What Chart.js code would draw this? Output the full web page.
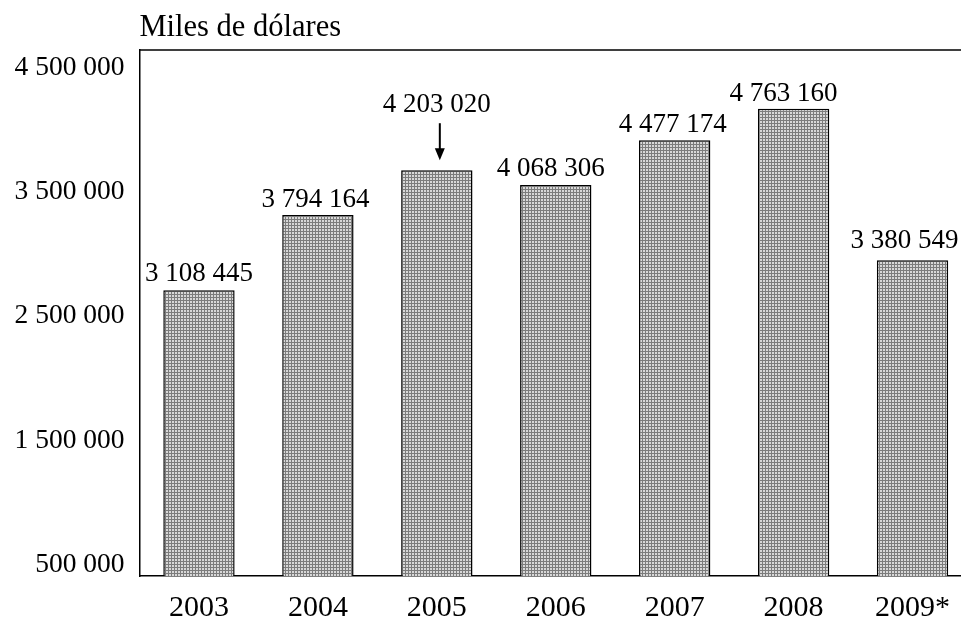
<!DOCTYPE html>
<html>
<head>
<meta charset="utf-8">
<title>Miles de dólares</title>
<script src="https://cdn.jsdelivr.net/npm/chart.js@4.4.0/dist/chart.umd.min.js"></script>
<style>
  html, body { margin: 0; padding: 0; overflow: hidden; background: #fff; }
  #wrap { width: 1000px; height: 620px; }
</style>
</head>
<body>
<div id="wrap"><canvas id="chart"></canvas></div>
<script>
const years = ['2003', '2004', '2005', '2006', '2007', '2008', '2009*'];
const values = [3108445, 3794164, 4203020, 4068306, 4477174, 4763160, 3380549];
const tickValues = [500000, 1500000, 2500000, 3500000, 4500000];
const unitLabel = 'Miles de dólares';

const SERIF = '"Liberation Serif", "Times New Roman", serif';

// label nudges as placed in the original (px)
const labelDx = [0, -2.5, 0, -5, -2, -10, -8];
const labelDy = [9, 8.5, 58, 8.5, 8.5, 8, 12.5];

function fmt(v) {
    return String(v).replace(/\B(?=(\d{3})+(?!\d))/g, ' ');
}

// fine grey grid fill like the original print
function makePattern() {
    let p = document.createElement('canvas');
    p.width = 3; p.height = 3;
    let pc = p.getContext('2d');
    pc.fillStyle = '#d8d8d8';
    pc.fillRect(0, 0, 3, 3);
    pc.fillStyle = '#7c7c7c';
    pc.fillRect(0, 0, 3, 1);
    pc.fillRect(0, 0, 1, 3);
    return document.getElementById('chart').getContext('2d').createPattern(p, 'repeat');
}

const framePlugin = {
    id: 'frame',
    afterDraw(chart) {
        const a = chart.chartArea, c = chart.ctx;
        c.save();
        c.strokeStyle = '#000';
        c.lineWidth = 1.5;
        c.beginPath();
        c.moveTo(a.left, a.top);
        c.lineTo(a.right, a.top);
        c.lineTo(a.right, a.bottom);
        c.stroke();
        c.fillStyle = '#000';
        c.font = '30.5px ' + SERIF;
        c.textAlign = 'left';
        c.textBaseline = 'alphabetic';
        c.fillText(unitLabel, a.left, 36);
        c.restore();
    }
};

const labelPlugin = {
    id: 'valueLabels',
    afterDatasetsDraw(chart) {
        const c = chart.ctx;
        const bars = chart.getDatasetMeta(0).data;
        c.save();
        c.fillStyle = '#000';
        c.strokeStyle = '#000';
        c.font = '27px ' + SERIF;
        c.textAlign = 'center';
        c.textBaseline = 'alphabetic';
        bars.forEach((bar, i) => {
            c.fillText(fmt(values[i]), bar.x + labelDx[i], bar.y - labelDy[i]);
            if (i === 2) {
                // arrow from the raised 2005 label down to its bar
                let ax = bar.x + 3;
                c.lineWidth = 2;
                c.beginPath();
                c.moveTo(ax, bar.y - 47);
                c.lineTo(ax, bar.y - 20);
                c.stroke();
                c.beginPath();
                c.moveTo(ax - 5, bar.y - 22);
                c.lineTo(ax + 5, bar.y - 22);
                c.lineTo(ax, bar.y - 10);
                c.closePath();
                c.fill();
            }
        });
        c.restore();
    }
};

const pattern = makePattern();

new Chart(document.getElementById('chart'), {
    type: 'bar',
    data: {
        labels: years,
        datasets: [{
            data: values,
            yAxisID: 'yBar',
            backgroundColor: pattern,
            borderColor: '#000',
            borderWidth: (ctx) => ctx.dataIndex === 6 ? {top: 1.5, left: 1.5, right: 1.5, bottom: 3} : 1.5,
            borderSkipped: (ctx) => ctx.dataIndex === 6 ? false : 'start',
            barPercentage: 0.6,
            categoryPercentage: 1.0
        }]
    },
    options: {
        responsive: true,
        maintainAspectRatio: false,
        animation: false,
        layout: { padding: { top: 50, right: 28, left: 0, bottom: 0 } },
        plugins: {
            legend: { display: false },
            title: { display: false },
            tooltip: { enabled: false }
        },
        scales: {
            x: {
                grid: { display: false, drawTicks: false },
                border: { display: true, color: '#000', width: 1.5 },
                ticks: {
                    color: '#000',
                    font: { family: SERIF, size: 30 },
                    padding: 14,
                    maxRotation: 0,
                    autoSkip: false
                },
                afterFit(scale) { scale.height = 44; }
            },
            y: {
                position: 'left',
                min: 411560,
                max: 4640700,
                grid: { display: false, drawTicks: false },
                border: { display: true, color: '#000', width: 1.5 },
                afterBuildTicks(scale) {
                    scale.ticks = tickValues.map(v => ({ value: v }));
                },
                ticks: {
                    color: '#000',
                    font: { family: SERIF, size: 27.5 },
                    padding: 15,
                    callback: (v) => fmt(v)
                },
                afterFit(scale) { scale.width = 139.5; }
            },
            yBar: {
                display: false,
                position: 'left',
                min: 500000,
                max: 5300000
            }
        }
    },
    plugins: [framePlugin, labelPlugin]
});
</script>
</body>
</html>
